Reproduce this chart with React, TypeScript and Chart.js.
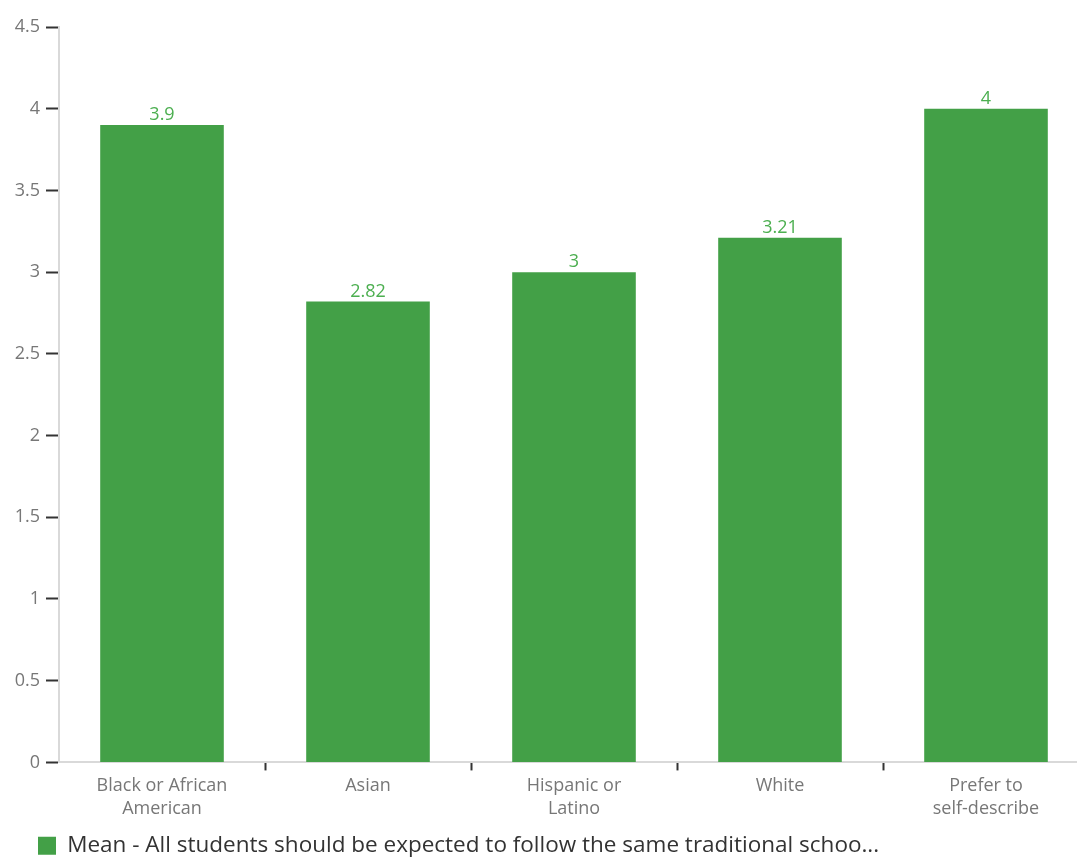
import React, { useEffect, useRef } from "react";
import { Chart, registerables } from "chart.js";

Chart.register(...registerables);

const categories: (string | string[])[] = [
  ["Black or African", "American"],
  "Asian",
  ["Hispanic or", "Latino"],
  "White",
  ["Prefer to", "self-describe"],
];
const meanValues: number[] = [3.9, 2.82, 3, 3.21, 4];
const seriesLabel = "Mean - All students should be expected to follow the same traditional schoo...";
const yTicks: number[] = [0, 0.5, 1, 1.5, 2, 2.5, 3, 3.5, 4, 4.5];

const BAR_COLOR = "#43a047";
const LABEL_COLOR = "#4caf50";
const FONT = "'Open Sans', 'DejaVu Sans', sans-serif";

const valueLabels = {
  id: "valueLabels",
  afterDatasetsDraw(chart: any) {
    const ctx = chart.ctx;
    const meta = chart.getDatasetMeta(0);
    ctx.save();
    ctx.fillStyle = LABEL_COLOR;
    ctx.font = `18px ${FONT}`;
    ctx.textAlign = "center";
    ctx.textBaseline = "bottom";
    meta.data.forEach((bar: any, i: number) => {
      ctx.fillText(String(meanValues[i]), bar.x, bar.y - 1);
    });
    ctx.restore();
  },
};

const legendShift = {
  id: "legendShift",
  afterLayout(chart: any) {
    if (chart.legend) {
      chart.legend.left += 28;
      chart.legend.right += 28;
    }
  },
};

export default function App() {
  const ref = useRef<HTMLCanvasElement | null>(null);
  useEffect(() => {
    if (!ref.current) return;
    const chart = new Chart(ref.current, {
      type: "bar",
      data: {
        labels: categories,
        datasets: [
          {
            label: seriesLabel,
            data: meanValues,
            backgroundColor: BAR_COLOR,
            borderWidth: 0,
            barPercentage: 0.6,
            categoryPercentage: 1,
          },
        ],
      },
      options: {
        animation: false,
        responsive: false,
        maintainAspectRatio: false,
        layout: { padding: { left: 0, right: 0, top: 27, bottom: 4 } },
        plugins: {
          legend: {
            position: "bottom",
            align: "start",
            labels: {
              boxWidth: 18,
              boxHeight: 18,
              padding: 10,
              color: "#333",
              font: { size: 22.5, family: FONT },
            },
          },
          tooltip: { enabled: false },
        },
        scales: {
          x: {
            grid: {
              drawOnChartArea: false,
              drawTicks: true,
              tickLength: 8,
              tickWidth: 2,
              tickColor: (c: any) =>
                c.index === undefined || c.index === 0 ? "rgba(0,0,0,0)" : "#333",
            },
            border: { color: "#d9d9d9", width: 2 },
            ticks: {
              color: "#777",
              font: { size: 18, family: FONT, lineHeight: 1.28 },
              padding: 4,
              maxRotation: 0,
              autoSkip: false,
            },
          },
          y: {
            min: 0,
            max: 4.5,
            afterBuildTicks: (scale: any) => {
              scale.ticks = yTicks.map((v) => ({ value: v }));
            },
            afterFit: (scale: any) => {
              scale.width = 59;
            },
            grid: {
              drawOnChartArea: false,
              drawTicks: true,
              tickLength: 13,
              tickWidth: 2,
              tickColor: "#333",
            },
            border: { color: "#d9d9d9", width: 2 },
            ticks: {
              color: "#777",
              font: { size: 18, family: FONT },
              padding: 6,
              callback: (v: any) => String(v),
            },
          },
        },
      },
      plugins: [valueLabels, legendShift],
    });
    return () => chart.destroy();
  }, []);

  return (
    <div
      style={{
        position: "fixed",
        left: 0,
        top: 0,
        width: 1077,
        height: 858,
        overflow: "hidden",
        background: "#fff",
      }}
    >
      <canvas ref={ref} width={1089} height={871} style={{ display: "block" }} />
    </div>
  );
}
